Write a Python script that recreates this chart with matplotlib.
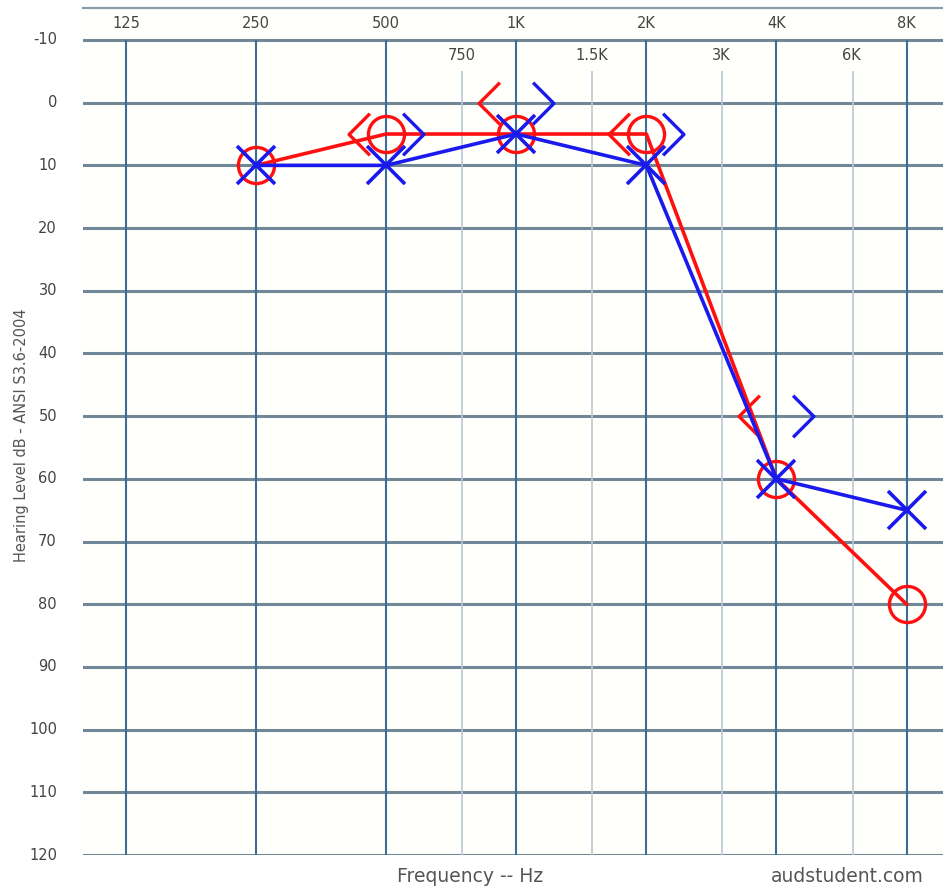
import numpy as np
import matplotlib
matplotlib.use("Agg")
import matplotlib.pyplot as plt
from matplotlib.path import Path
from matplotlib.transforms import ScaledTranslation

# audiogram data
freqs = [250, 500, 1000, 2000, 4000, 8000]
right_air = [10, 5, 5, 5, 60, 80]      # red O
left_air = [10, 10, 5, 10, 60, 65]     # blue X
bone_freqs = [500, 1000, 2000, 4000]
right_bone = [5, 0, 5, 50]             # red <
left_bone = [5, 0, 5, 50]              # blue >

main_freqs = [125, 250, 500, 1000, 2000, 4000, 8000]
main_labels = ["125", "250", "500", "1K", "2K", "4K", "8K"]
mid_freqs = [750, 1500, 3000, 6000]
mid_labels = ["750", "1.5K", "3K", "6K"]
db_ticks = list(range(-10, 121, 10))

fig = plt.figure(figsize=(9.43, 8.91), dpi=100)
fig.patch.set_facecolor("white")
ax = fig.add_axes([83 / 943, 1 - 855 / 891, 1 - 83 / 943, (855 - 8) / 891])
ax.set_xscale("log", base=2)
x0 = 125 * 2 ** (-0.33)
x1 = 125 * 2 ** 6.28
ax.set_xlim(x0, x1)
ax.set_ylim(120, -15.1)
ax.set_facecolor("#fffffb")
for s in ax.spines.values():
    s.set_visible(False)
ax.set_xticks([])
ax.set_yticks([])
ax.minorticks_off()

# grid
for d in db_ticks:
    ax.axhline(d, color="#6f8798", lw=2.2, zorder=1)
ax.axhline(-15.1, color="#8c9cac", lw=1.6, zorder=1, clip_on=False)
ax.vlines(main_freqs, -10, 120, color="#3c6c98", lw=1.5, zorder=1)
ax.vlines(mid_freqs, -5, 120, color="#b9c8d4", lw=1.2, zorder=1)

# frequency labels
for f, t in zip(main_freqs, main_labels):
    ax.text(f, -12.6, t, ha="center", va="center", fontsize=10.5,
            color="#444444", family="DejaVu Sans")
for f, t in zip(mid_freqs, mid_labels):
    ax.text(f * 0.995, -7.6, t, ha="center", va="center", fontsize=10.5,
            color="#444444", family="DejaVu Sans")

# db labels
for d in db_ticks:
    ax.text(x0 * 2 ** (-0.2), d, str(d), ha="right", va="center",
            fontsize=10.5, color="#444444", family="DejaVu Sans", clip_on=False)

red = "#ff1010"
blue = "#1a1aee"

ax.plot(freqs, right_air, color=red, lw=2.6, marker="o", ms=26,
        mfc="none", mec=red, mew=2.4, zorder=3)
ax.plot(freqs, left_air, color=blue, lw=2.6, marker="x", ms=28,
        mec=blue, mew=2.6, zorder=4)

lt = Path([(0.5, 1), (-0.5, 0), (0.5, -1)], [Path.MOVETO, Path.LINETO, Path.LINETO])
gt = Path([(-0.5, 1), (0.5, 0), (-0.5, -1)], [Path.MOVETO, Path.LINETO, Path.LINETO])
left_shift = ax.transData + ScaledTranslation(-0.27, 0, fig.dpi_scale_trans)
right_shift = ax.transData + ScaledTranslation(0.27, 0, fig.dpi_scale_trans)
ax.plot(bone_freqs, right_bone, ls="none", marker=lt, ms=30, mfc="none",
        mec=red, mew=2.4, transform=left_shift, zorder=3)
ax.plot(bone_freqs, left_bone, ls="none", marker=gt, ms=30, mfc="none",
        mec=blue, mew=2.4, transform=right_shift, zorder=4)

fig.text(22 / 943, 1 - 435 / 891, "Hearing Level dB - ANSI S3.6-2004",
         rotation=90, ha="center", va="center", fontsize=10.5,
         color="#555555", family=["Liberation Sans Narrow", "DejaVu Sans"])
fig.text(470 / 943, 1 - 876 / 891, "Frequency -- Hz", ha="center",
         va="center", fontsize=13.5, color="#555555",
         family=["Liberation Sans Narrow", "DejaVu Sans"])
fig.text(847 / 943, 1 - 876 / 891, "audstudent.com", ha="center",
         va="center", fontsize=13.5, color="#555555",
         family=["Liberation Sans Narrow", "DejaVu Sans"])

fig.savefig("out.png", dpi=100)
